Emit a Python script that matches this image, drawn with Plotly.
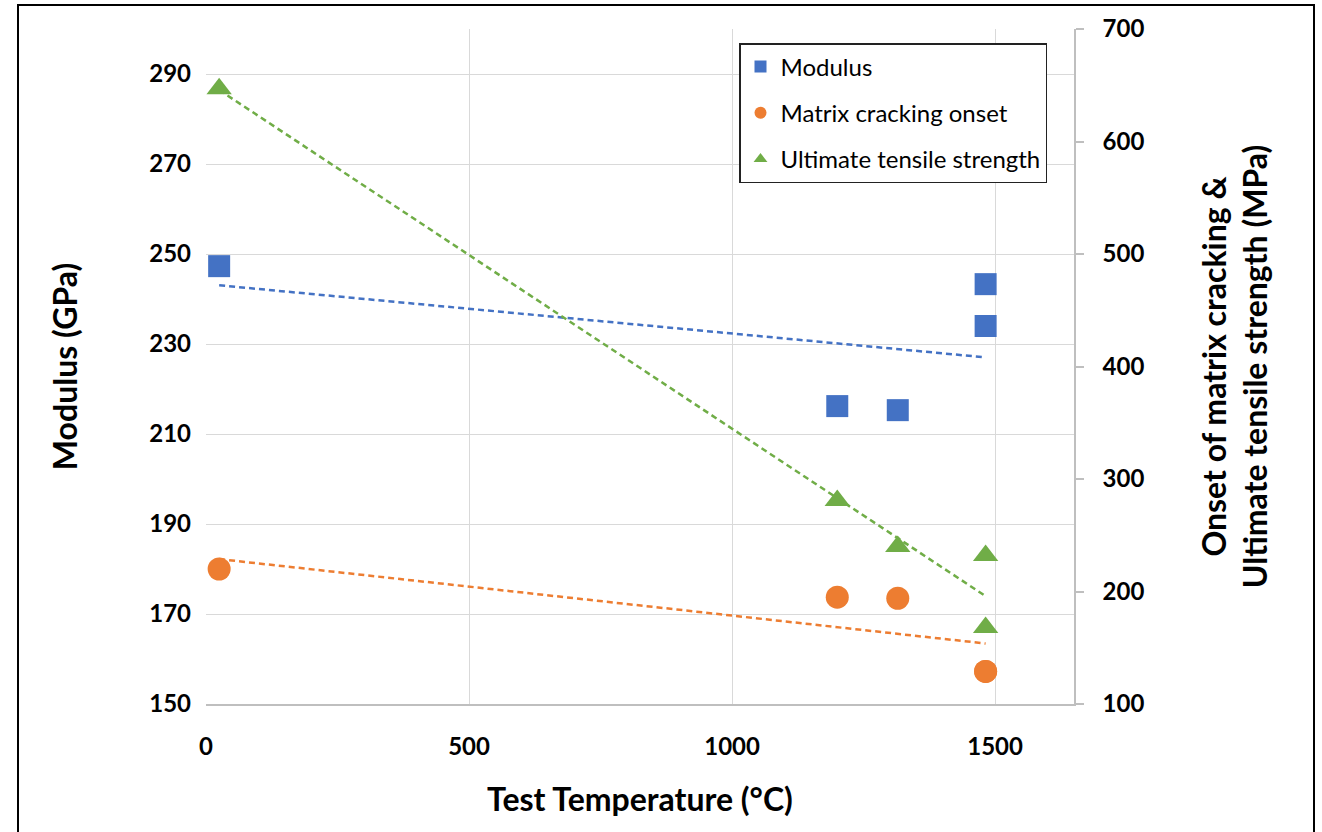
import numpy as np
import plotly.graph_objects as go

# ---- data ----
temperature = [25, 1200, 1315, 1482, 1482]
modulus = [247.3, 216.2, 215.3, 243.3, 234.0]
matrix_cracking = [220, 195, 194, 129, 129]
uts = [647, 281, 240, 232, 168]

BLUE = "#4472C4"
ORANGE = "#ED7D31"
GREEN = "#70AD47"
GRID = "#D9D9D9"
FONT = "Lato"

W, H = 1322, 832
L, R, T, B = 206, 248, 29, 128
pw, ph = W - L - R, H - T - B


def trend(x, y):
    k, c = np.polyfit(x, y, 1)
    xs = np.array([min(x), max(x)], dtype=float)
    return xs, k * xs + c


fig = go.Figure()

series = [
    ("Modulus", modulus, "y", BLUE, "square", 22),
    ("Matrix cracking onset", matrix_cracking, "y2", ORANGE, "circle", 23),
    ("Ultimate tensile strength", uts, "y2", GREEN, "triangle-up", 22),
]

for name, vals, ax, col, sym, sz in series:
    tx, ty = trend(temperature, vals)
    fig.add_trace(go.Scatter(x=tx, y=ty, mode="lines", yaxis=ax, showlegend=False,
                             line=dict(color=col, width=2.5, dash="6px,4px"),
                             hoverinfo="skip"))

for i, (name, vals, ax, col, sym, sz) in enumerate(series):
    fig.add_trace(go.Scatter(x=temperature, y=vals, mode="markers", name=name, yaxis=ax,
                             legendgroup=f"g{i}",
                             marker=dict(color=col, symbol=sym, size=sz, line=dict(width=0))))

fig.update_layout(
    width=W, height=H,
    margin=dict(l=L, r=R, t=T, b=B),
    paper_bgcolor="white", plot_bgcolor="white",
    font=dict(family=FONT, color="black"),
    showlegend=True,
    legend=dict(x=(739 - L) / pw, y=1 - (43 - T) / ph, xanchor="left", yanchor="top",
                bgcolor="white", bordercolor="#222222", borderwidth=1.5,
                font=dict(family=FONT, size=24, color="black"),
                traceorder="grouped", tracegroupgap=12, itemsizing="constant",
                itemwidth=30),
    xaxis=dict(range=[0, 1650], tick0=0, dtick=500, showgrid=True, gridcolor=GRID, gridwidth=1.3,
               zeroline=False, showline=True, linecolor="#BFBFBF", linewidth=1.5, ticks="",
               tickfont=dict(family=FONT, size=24, weight="bold"), ticklabelstandoff=20,
               title=dict(text="Test Temperature (°C)", standoff=30,
                          font=dict(family=FONT, size=32, weight="bold"))),
    yaxis=dict(range=[150, 300], tick0=150, dtick=20, showgrid=True, gridcolor=GRID, gridwidth=1.3,
               zeroline=False, showline=False, ticks="",
               tickfont=dict(family=FONT, size=24, weight="bold"), ticklabelstandoff=14,
               title=dict(text="Modulus (GPa)", standoff=62,
                          font=dict(family=FONT, size=32, weight="bold"))),
    yaxis2=dict(range=[100, 700], tick0=100, dtick=100, overlaying="y", side="right",
                showgrid=False, zeroline=False, showline=True, linecolor="#BFBFBF", linewidth=1.5,
                ticks="outside", ticklen=8, tickcolor="#BFBFBF", tickwidth=1.5,
                tickfont=dict(family=FONT, size=24, weight="bold"), ticklabelstandoff=14,
                title=dict(text="Onset of matrix cracking &<br>Ultimate tensile strength (MPa)",
                           standoff=60, font=dict(family=FONT, size=32, weight="bold"))),
)

# outer chart border
fig.add_shape(type="rect", xref="paper", yref="paper",
              x0=(18 - L) / pw, x1=(1314 - L) / pw,
              y0=1 - (845 - T) / ph, y1=1 - (5 - T) / ph,
              line=dict(color="black", width=2), layer="below")

fig.write_html("out.html")
